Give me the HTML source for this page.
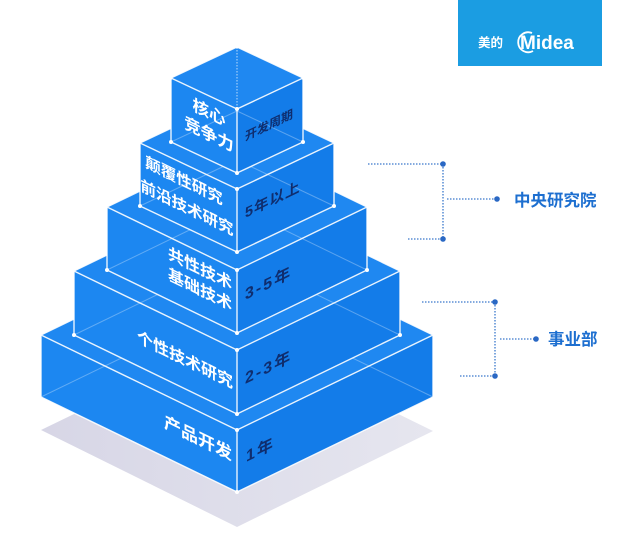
<!DOCTYPE html>
<html>
<head>
<meta charset="utf-8">
<style>
  html,body{margin:0;padding:0;background:#fff;}
  svg{display:block;}
  .cn{font-family:"Liberation Sans","Noto Sans CJK SC",sans-serif;font-weight:bold;}
</style>
</head>
<body>
<svg width="640" height="554" viewBox="0 0 640 554" xmlns="http://www.w3.org/2000/svg">
  <defs>
    <linearGradient id="sh" x1="0" y1="0" x2="1" y2="0">
      <stop offset="0" stop-color="#d7d6e6"/>
      <stop offset="1" stop-color="#e6e6ef"/>
    </linearGradient>
  </defs>
  <rect width="640" height="554" fill="#fff"/>

  <!-- logo -->
  <rect x="458" y="0" width="144" height="66" fill="#1b9de2"/>
  <text x="478" y="47" class="cn" font-size="12.5" fill="#fff" font-weight="normal">美的</text>
  <path d="M532,33 A10,10 0 1 0 533,51" fill="none" stroke="#fff" stroke-width="1.8"/>
  <text x="520" y="49" font-family="Liberation Sans, sans-serif" font-size="19" font-weight="bold" fill="#fff">Midea</text>

  <!-- shadow -->
  <polygon points="41,430 237,527 433,431 237,335" fill="url(#sh)"/>

  <g stroke-linejoin="round">
  <!-- Box E -->
  <polygon points="41,335 237,430 433,335 237,240" fill="#1f88f1"/>
  <polygon points="41,335 237,430 237,492 41,397" fill="#1c87f1"/>
  <polygon points="237,430 433,335 433,397 237,492" fill="#137ce9"/>
  <g stroke="#fff" stroke-opacity="0.3" stroke-width="1" fill="none">
    <line x1="41" y1="397" x2="237" y2="302"/>
    <line x1="433" y1="397" x2="237" y2="302"/>
  </g>
  <g stroke="#fff" stroke-opacity="0.9" stroke-width="1.4" fill="none">
    <polygon points="41,335 237,430 433,335 237,240"/>
    <polyline points="41,335 41,397 237,492 433,397 433,335"/>
    <line x1="237" y1="430" x2="237" y2="492"/>
  </g>

  <!-- Box D -->
  <polygon points="74,271 237,350 400,271 237,192" fill="#1f88f1"/>
  <polygon points="74,271 237,350 237,414 74,335" fill="#1c87f1"/>
  <polygon points="237,350 400,271 400,335 237,414" fill="#137ce9"/>
  <g stroke="#fff" stroke-opacity="0.3" stroke-width="1" fill="none">
    <line x1="74" y1="335" x2="237" y2="256"/>
    <line x1="400" y1="335" x2="237" y2="256"/>
  </g>
  <g stroke="#fff" stroke-opacity="0.9" stroke-width="1.4" fill="none">
    <polygon points="74,271 237,350 400,271 237,192"/>
    <polyline points="74,271 74,335 237,414 400,335 400,271"/>
    <line x1="237" y1="350" x2="237" y2="414"/>
  </g>

  <!-- Box C -->
  <polygon points="107,207 237,270 367,207 237,144" fill="#1f88f1"/>
  <polygon points="107,207 237,270 237,333 107,270" fill="#1c87f1"/>
  <polygon points="237,270 367,207 367,270 237,333" fill="#137ce9"/>
  <g stroke="#fff" stroke-opacity="0.3" stroke-width="1" fill="none">
    <line x1="107" y1="270" x2="237" y2="207"/>
    <line x1="367" y1="270" x2="237" y2="207"/>
  </g>
  <g stroke="#fff" stroke-opacity="0.9" stroke-width="1.4" fill="none">
    <polygon points="107,207 237,270 367,207 237,144"/>
    <polyline points="107,207 107,270 237,333 367,270 367,207"/>
    <line x1="237" y1="270" x2="237" y2="333"/>
  </g>

  <!-- Box B -->
  <polygon points="140,143 237,189 334,143 237,97" fill="#1f88f1"/>
  <polygon points="140,143 237,189 237,252 140,206" fill="#1c87f1"/>
  <polygon points="237,189 334,143 334,206 237,252" fill="#137ce9"/>
  <g stroke="#fff" stroke-opacity="0.3" stroke-width="1" fill="none">
    <line x1="140" y1="206" x2="237" y2="160"/>
    <line x1="334" y1="206" x2="237" y2="160"/>
  </g>
  <g stroke="#fff" stroke-opacity="0.9" stroke-width="1.4" fill="none">
    <polygon points="140,143 237,189 334,143 237,97"/>
    <polyline points="140,143 140,206 237,252 334,206 334,143"/>
    <line x1="237" y1="189" x2="237" y2="252"/>
  </g>

  <!-- Box A (cube) -->
  <polygon points="171,78 237,109 303,78 237,47" fill="#1f88f1"/>
  <polygon points="171,78 237,109 237,173 171,142" fill="#1c87f1"/>
  <polygon points="237,109 303,78 303,142 237,173" fill="#137ce9"/>
  <g stroke="#fff" stroke-opacity="0.3" stroke-width="1" fill="none">
    <line x1="171" y1="142" x2="237" y2="111"/>
    <line x1="303" y1="142" x2="237" y2="111"/>
  </g>
  <line x1="237" y1="47" x2="237" y2="109" stroke="#fff" stroke-opacity="0.7" stroke-width="1" stroke-dasharray="1.5 1.5"/>
  <g stroke="#fff" stroke-opacity="0.9" stroke-width="1.4" fill="none">
    <polygon points="171,78 237,109 303,78 237,47"/>
    <polyline points="171,78 171,142 237,173 303,142 303,78"/>
    <line x1="237" y1="109" x2="237" y2="173"/>
  </g>
  </g>

  <!-- corner dots -->
  <g fill="#fff">
    <circle cx="237" cy="109" r="2"/><circle cx="237" cy="173" r="2"/>
    <circle cx="171" cy="142" r="2"/><circle cx="303" cy="142" r="2"/>
    <circle cx="171" cy="78" r="1.6"/><circle cx="303" cy="78" r="1.6"/><circle cx="237" cy="47" r="1.6"/>
    <circle cx="237" cy="189" r="2"/><circle cx="237" cy="252" r="2"/>
    <circle cx="140" cy="206" r="2"/><circle cx="334" cy="206" r="2"/>
    <circle cx="237" cy="270" r="2"/><circle cx="237" cy="333" r="2"/>
    <circle cx="107" cy="270" r="2"/><circle cx="367" cy="270" r="2"/>
    <circle cx="237" cy="350" r="2"/><circle cx="237" cy="414" r="2"/>
    <circle cx="74" cy="335" r="2"/><circle cx="400" cy="335" r="2"/>
    <circle cx="237" cy="430" r="2"/><circle cx="237" cy="492" r="2"/>
  </g>

  <!-- left face labels (white) -->
  <g class="cn" fill="#fff" text-anchor="middle">
    <text font-size="16.5" transform="translate(209,118) skewY(26)">核心</text>
    <text font-size="16.5" transform="translate(209,140) skewY(26)">竞争力</text>
    <text font-size="15.5" transform="translate(184,186) skewY(26)">颠覆性研究</text>
    <text font-size="15.5" transform="translate(187,213) skewY(26)">前沿技术研究</text>
    <text font-size="16" transform="translate(200,274) skewY(26)">共性技术</text>
    <text font-size="16" transform="translate(200,295) skewY(26)">基础技术</text>
    <text font-size="16" transform="translate(185,365) skewY(26)">个性技术研究</text>
    <text font-size="17" transform="translate(198,444) skewY(26)">产品开发</text>
  </g>

  <!-- right face labels (dark) -->
  <g class="cn" fill="#0f2d6e">
    <text font-size="12" transform="translate(245,141) skewY(-26)">开发周期</text>
    <text font-size="14.5" letter-spacing="1" transform="translate(245,218) skewY(-26)">5年以上</text>
    <text font-size="16" letter-spacing="2" transform="translate(245,300) skewY(-26)">3-5年</text>
    <text font-size="16" letter-spacing="2" transform="translate(245,384) skewY(-26)">2-3年</text>
    <text font-size="16" letter-spacing="2" transform="translate(246,462) skewY(-26)">1年</text>
  </g>

  <!-- connectors -->
  <g stroke="#3a78cc" stroke-width="1.3" stroke-dasharray="1.5 1.5" fill="none">
    <line x1="368" y1="164" x2="443" y2="164"/>
    <line x1="443" y1="164" x2="443" y2="239"/>
    <line x1="408" y1="239" x2="443" y2="239"/>
    <line x1="447" y1="199" x2="497" y2="199"/>
    <line x1="422" y1="302" x2="495" y2="302"/>
    <line x1="495" y1="302" x2="495" y2="376"/>
    <line x1="460" y1="376" x2="495" y2="376"/>
    <line x1="500" y1="339" x2="536" y2="339"/>
  </g>
  <g fill="#2a68c4">
    <circle cx="443" cy="164" r="2.8"/><circle cx="443" cy="239" r="2.8"/>
    <circle cx="497" cy="199" r="2.8"/>
    <circle cx="495" cy="302" r="2.8"/><circle cx="495" cy="376" r="2.8"/>
    <circle cx="536" cy="339" r="2.8"/>
  </g>
  <text x="514" y="206" class="cn" font-size="16.5" fill="#1d6fd0">中央研究院</text>
  <text x="548" y="345" class="cn" font-size="16.5" fill="#1d6fd0">事业部</text>
</svg>
</body>
</html>
